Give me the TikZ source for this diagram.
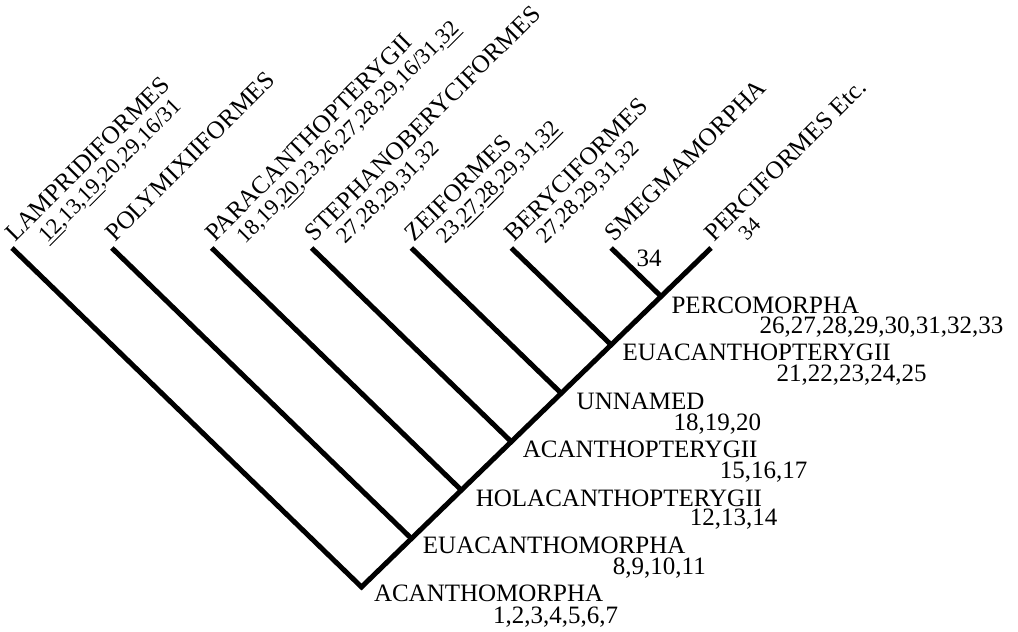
\documentclass[tikz,border=0pt]{standalone}
\usepackage{fontspec}
\setmainfont{Liberation Serif}
\usetikzlibrary{calc, positioning}

\tikzset{
  branch/.style={line width=2pt, line join=miter},
  clade/.style={inner sep=0pt, anchor=base west, font=\fontsize{10}{12}\selectfont},
  taxon/.style={inner sep=0pt, anchor=base west, rotate=45, font=\fontsize{10}{12}\selectfont},
  taxchars/.style={inner sep=0pt, anchor=base west, rotate=45, font=\fontsize{9}{11}\selectfont}
}

\begin{document}
\begin{tikzpicture}[x=0.4pt, y=0.4pt]
    \useasboundingbox (0,0) rectangle (1018,632);

    % 1. Tips and root
    \coordinate (tLampri) at (12,384);
    \coordinate (tPoly)   at (111.9,384);
    \coordinate (tPara)   at (211.7,384);
    \coordinate (tSteph)  at (311.6,384);
    \coordinate (tZei)    at (411.4,384);
    \coordinate (tBeryc)  at (511.3,384);
    \coordinate (tSmeg)   at (611.1,384);
    \coordinate (tPerci)  at (711,384);
    \coordinate (root)    at (361.5,45);

    % 2. Junctions on the spine
    \coordinate (jEuacm) at ($(root)!1/7!(tPerci)$);
    \coordinate (jHolac) at ($(root)!2/7!(tPerci)$);
    \coordinate (jAcant) at ($(root)!3/7!(tPerci)$);
    \coordinate (jUnnam) at ($(root)!4/7!(tPerci)$);
    \coordinate (jEuact) at ($(root)!5/7!(tPerci)$);
    \coordinate (jPercm) at ($(root)!6/7!(tPerci)$);

    % 3. Branches
    \draw[branch] (tLampri) -- (root) -- (tPerci);
    \foreach \t/\j in {tPoly/jEuacm, tPara/jHolac, tSteph/jAcant,
                       tZei/jUnnam, tBeryc/jEuact, tSmeg/jPercm}
        \draw[branch] (\t) -- (\j);

    % 4. Clade names and characters
    \node[clade] (nAcm) at ($(root)+(12,-15)$) {ACANTHOMORPHA};
    \node[clade] (cAcm) at ($(nAcm.base west)+(119,-22)$) {1,2,3,4,5,6,7};
    \node[clade] (nEuacm) at ($(jEuacm)+(11,-15)$) {EUACANTHOMORPHA};
    \node[clade] (cEuacm) at ($(nEuacm.base west)+(190,-21)$) {8,9,10,11};
    \node[clade] (nHolac) at ($(jHolac)+(14,-16)$) {HOLACANTHOPTERYGII};
    \node[clade] (cHolac) at ($(nHolac.base west)+(214,-19)$) {12,13,14};
    \node[clade] (nAcant) at ($(jAcant)+(11,-16)$) {ACANTHOPTERYGII};
    \node[clade] (cAcant) at ($(nAcant.base west)+(197,-21)$) {15,16,17};
    \node[clade] (nUnnam) at ($(jUnnam)+(15,-16)$) {UNNAMED};
    \node[clade] (cUnnam) at ($(nUnnam.base west)+(97,-21)$) {18,19,20};
    \node[clade] (nEuact) at ($(jEuact)+(11,-16)$) {EUACANTHOPTERYGII};
    \node[clade] (cEuact) at ($(nEuact.base west)+(154,-21)$) {21,22,23,24,25};
    \node[clade] (nPercm) at ($(jPercm)+(10,-17)$) {PERCOMORPHA};
    \node[clade] (cPercm) at ($(nPercm.base west)+(88,-20)$) {26,27,28,29,30,31,32,33};

    % 5. Terminal taxa
    \node[taxon] (nLampri) at ($(tLampri)+(3,5)$) {LAMPRIDIFORMES};
    \node[taxchars] (cLampri) at ($(nLampri.base west)+(45:22)+(-45:23)$)
        {\underline{12},13,\underline{19},20,29,16/31};
    \node[taxon] (nPoly) at ($(tPoly)+(3,5)$) {POLYMIXIIFORMES};
    \node[taxon] (nPara) at ($(tPara)+(3,5)$) {PARACANTHOPTERYGII};
    \node[taxchars] (cPara) at ($(nPara.base west)+(45:20)+(-45:23)$)
        {18,19,\underline{20},23,26,27,28,29,16/31,\underline{32}};
    \node[taxon] (nSteph) at ($(tSteph)+(3,5)$) {STEPHANOBERYCIFORMES};
    \node[taxchars] (cSteph) at ($(nSteph.base west)+(45:20)+(-45:23)$)
        {27,28,29,31,32};
    \node[taxon] (nZei) at ($(tZei)+(3,5)$) {ZEIFORMES};
    \node[taxchars] (cZei) at ($(nZei.base west)+(45:20)+(-45:23)$)
        {23,\underline{27},\underline{28},29,31,\underline{32}};
    \node[taxon] (nBeryc) at ($(tBeryc)+(3,5)$) {BERYCIFORMES};
    \node[taxchars] (cBeryc) at ($(nBeryc.base west)+(45:20)+(-45:23)$)
        {27,28,29,31,32};
    \node[taxon] (nSmeg) at ($(tSmeg)+(3,5)$) {SMEGMAMORPHA};
    \node[clade] (cSmeg) at ($(tSmeg)+(25,-19)$) {34};
    \node[taxon] (nPerci) at ($(tPerci)+(3,5)$) {PERCIFORMES Etc.};
    \node[taxchars, font=\fontsize{8.5}{10}\selectfont] (cPerci)
        at ($(nPerci.base west)+(45:24)+(-45:22)$) {34};
\end{tikzpicture}
\end{document}
